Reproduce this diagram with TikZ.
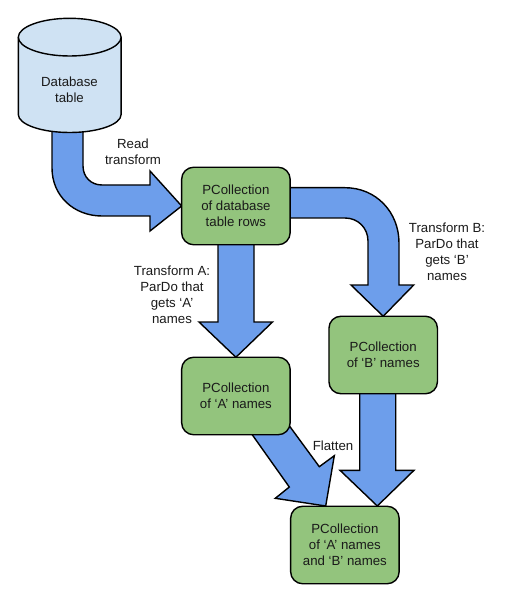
\documentclass[tikz,border=0pt]{standalone}
\usepackage{fontspec}
\setmainfont{Liberation Sans}
\usetikzlibrary{backgrounds,calc}
\definecolor{boxgreen}{HTML}{93C47D}
\definecolor{arrowblue}{HTML}{6D9EEB}
\definecolor{dbblue}{HTML}{CFE2F3}
\definecolor{inkc}{HTML}{1A1A1A}
\tikzset{
  every node/.style={font=\fontsize{13.25}{16}\selectfont, text=inkc, align=center, inner sep=0pt, outer sep=0pt},
  pcbox/.style={draw=black, fill=boxgreen, line width=1.4pt, rounded corners=12pt, minimum width=108.5pt, minimum height=77.5pt},
  dbcyl/.style={draw=black, fill=dbblue, line width=1.4pt},
  blockarrow/.style={draw=black, fill=arrowblue, line width=1.4pt, line join=miter},
}
\begin{document}
\begin{tikzpicture}[x=1pt,y=-1pt]
\useasboundingbox (0,0) rectangle (516,609);
\draw[dbcyl] (18.3,37.2) -- (18.3,114.5) .. controls (18.3,124.4) and (41.2,132.5) .. (69.7,132.5) .. controls (98.2,132.5) and (121.1,124.4) .. (121.1,114.5) -- (121.1,37.2) .. controls (121.1,27) and (98.2,18.3) .. (69.7,18.3) .. controls (41.2,18.3) and (18.3,27) .. (18.3,37.2) -- cycle;
\draw[dbcyl] (18.3,37.2) .. controls (18.3,47.4) and (41.2,56) .. (69.7,56) .. controls (98.2,56) and (121.1,47.4) .. (121.1,37.2);
\node (db) at (69.5,90) {Database\\table};
\node[pcbox] (rows) at (235.9,206) {PCollection\\of database\\table rows};
\node[pcbox] (pca) at (235.9,396) {PCollection\\of ‘A’ names};
\node[pcbox] (pcb) at (383.2,355) {PCollection\\of ‘B’ names};
\node[pcbox] (pcab) at (344.9,545) {PCollection\\of ‘A’ names\\and ‘B’ names};
\node (readl) at (133,152) {Read\\transform};
\node (tal) at (172,295) {Transform A:\\ParDo that\\gets ‘A’\\names};
\node (tbl) at (447,252) {Transform B:\\ParDo that\\gets ‘B’\\names};
\node (fll) at (333,446) {Flatten};
\begin{scope}[on background layer]
\draw[blockarrow] (52,130) -- (52,168) .. controls (52,196) and (74,216) .. (102,216) -- (150,216) -- (150,231) -- (rows.west) -- (150,171) -- (150,185) -- (102,185) .. controls (91,185) and (83,177) .. (83,166) -- (83,130) -- cycle;
\draw[blockarrow] (218,244) -- (218,322) -- (199,322) -- (pca.north) -- (272.5,322) -- (254,322) -- (254,244) -- cycle;
\draw[blockarrow] (288,187.7) -- (345,187.7) .. controls (376,187.7) and (399,212) .. (399,243) -- (399,285) -- (413.7,285) -- (pcb.north) -- (351,285) -- (368,285) -- (368,241) .. controls (368,228) and (358,218) .. (345,218) -- (288,218) -- cycle;
\draw[blockarrow] (359.7,392) -- (359.7,470.3) -- (340,470.3) -- (377.3,506) -- (414,470.3) -- (395.7,470.3) -- (395.7,392) -- cycle;
\draw[blockarrow] (288,424) -- (319.3,466.7) -- (334.3,455.7) -- (325.7,506) -- (275.3,498.3) -- (289.3,487) -- (251.7,434) -- cycle;
\end{scope}
\end{tikzpicture}
\end{document}
